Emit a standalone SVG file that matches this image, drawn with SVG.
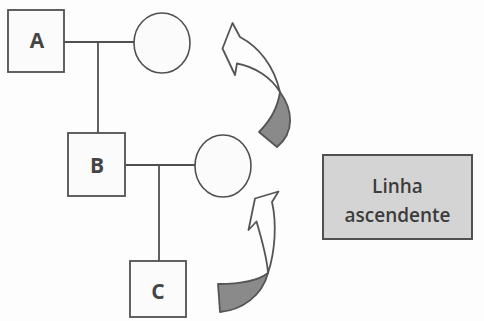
<svg xmlns="http://www.w3.org/2000/svg" width="484" height="321" viewBox="0 0 484 321">
  <style>
    .ln { fill: none; stroke: #505050; stroke-width: 1.8; }
    .box { fill: #fbfbfb; stroke: #505050; stroke-width: 1.8; }
    .sym { fill: #fbfbfb; stroke: #505050; stroke-width: 1.6; }
    .lbl { font-family: "Open Sans", "Liberation Sans", sans-serif; font-weight: bold; font-size: 21px; fill: #454545; text-anchor: middle; }
    .arrow-light { fill: #fdfdfd; stroke: #555; stroke-width: 1.8; stroke-linejoin: round; }
    .arrow-dark { fill: #8a8a8a; stroke: #555; stroke-width: 1.8; stroke-linejoin: round; }
    .note { fill: #d4d4d4; stroke: #505050; stroke-width: 2; }
    .note-text { font-family: "Open Sans", "Liberation Sans", sans-serif; font-weight: 600; font-size: 19px; fill: #3c3c3c; text-anchor: middle; }
  </style>
  <rect width="484" height="321" fill="#fdfdfd"/>

  <!-- kinship lines -->
  <g id="connectors">
    <line class="ln" x1="64" y1="42" x2="134" y2="42"/>
    <line class="ln" x1="98" y1="42" x2="98" y2="133"/>
    <line class="ln" x1="125" y1="165" x2="195" y2="165"/>
    <line class="ln" x1="159" y1="165" x2="159" y2="261"/>
  </g>

  <g id="node-a">
    <rect class="box" x="8" y="10" width="56" height="62"/>
    <text class="lbl" x="37" y="48">A</text>
  </g>
  <g id="node-a-partner">
    <ellipse class="sym" cx="162" cy="43" rx="28" ry="30"/>
  </g>
  <g id="node-b">
    <rect class="box" x="68" y="133" width="57" height="63"/>
    <text class="lbl" x="97" y="173">B</text>
  </g>
  <g id="node-b-partner">
    <ellipse class="sym" cx="223" cy="166" rx="28" ry="31"/>
  </g>
  <g id="node-c">
    <rect class="box" x="130" y="261" width="56" height="56"/>
    <text class="lbl" x="158" y="299">C</text>
  </g>

  <!-- upper curved arrow -->
  <g id="arrow-upper">
    <path class="arrow-light" d="M240,37 L232.5,23 L222.5,48.5 L235,75 L237,63.5 C255,67 271,77 280,92 C274,66 259,47 240,37 Z"/>
    <path class="arrow-dark" d="M280,92 C293,110 295,132 277,147 L259,132 C271,120 278,106 280,92 Z"/>
  </g>

  <!-- lower curved arrow -->
  <g id="arrow-lower">
    <path class="arrow-light" d="M272,202 L278.5,191.5 L255,198.5 L248.5,230 L256.5,221.5 C262,240 267,258 268,273 C275,252 277,224 272,202 Z"/>
    <path class="arrow-dark" d="M268,273 C258,281 240,284 218,284 L220,312 C242,310 262,296 268,273 Z"/>
  </g>

  <g id="legend">
    <rect class="note" x="323" y="155" width="149" height="84"/>
    <text class="note-text" x="397.5" y="193">Linha</text>
    <text class="note-text" x="397.5" y="222">ascendente</text>
  </g>
</svg>
